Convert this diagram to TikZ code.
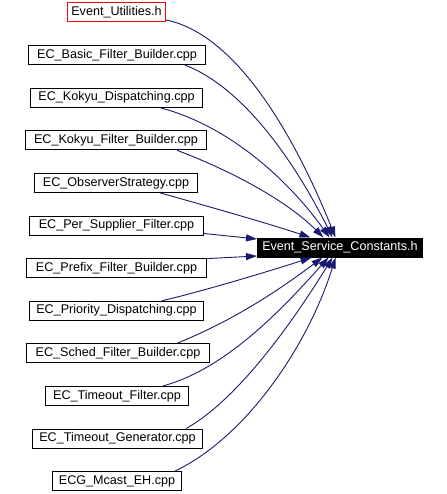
\documentclass[tikz,border=0pt]{standalone}
\usepackage{fontspec}
\setmainfont{Liberation Sans}
\usetikzlibrary{arrows.meta}
\definecolor{edgec}{HTML}{191970}
\tikzset{
  filebox/.style={draw=black, line width=1pt, inner xsep=3pt, inner ysep=0pt,
    minimum height=19pt, font=\fontsize{12.6}{14}\selectfont, anchor=center},
  redbox/.style={filebox, draw=red},
  mainbox/.style={filebox, fill=black, text=white},
  edge/.style={draw=edgec, line width=0.9pt, -{Triangle[length=11pt,width=7pt]}}
}
\begin{document}
\begin{tikzpicture}[x=1pt,y=-1pt]
\useasboundingbox (0,0) rectangle (446,494);
\node[redbox,  minimum width=98pt]  (eu)  at (116.5,12.5) {Event\_Utilities.h};
\node[filebox, minimum width=177pt] (bfb) at (117,55.1)  {EC\_Basic\_Filter\_Builder.cpp};
\node[filebox, minimum width=172pt] (kd)  at (116.5,97.7)  {EC\_Kokyu\_Dispatching.cpp};
\node[filebox, minimum width=181pt] (kf)  at (116,140.3) {EC\_Kokyu\_Filter\_Builder.cpp};
\node[filebox, minimum width=163pt] (os)  at (116,182.9) {EC\_ObserverStrategy.cpp};
\node[filebox, minimum width=174pt] (ps)  at (116.5,225.5) {EC\_Per\_Supplier\_Filter.cpp};
\node[filebox, minimum width=180pt] (pfb) at (116.5,268.1) {EC\_Prefix\_Filter\_Builder.cpp};
\node[filebox, minimum width=174pt] (pd)  at (116.5,310.7) {EC\_Priority\_Dispatching.cpp};
\node[filebox, minimum width=183pt] (sfb) at (118,353.3) {EC\_Sched\_Filter\_Builder.cpp};
\node[filebox, minimum width=143pt] (tf)  at (117,395.9) {EC\_Timeout\_Filter.cpp};
\node[filebox, minimum width=170pt] (tg)  at (117.5,438.5) {EC\_Timeout\_Generator.cpp};
\node[filebox, minimum width=129pt] (mc)  at (117,481.1) {ECG\_Mcast\_EH.cpp};
\node[mainbox, minimum width=165pt] (tgt) at (340,247.5) {Event\_Service\_Constants.h};

% upper group
\draw[edge] ([yshift=-7.5pt]eu.east) .. controls (246,36) and (306,164) .. ([xshift=78.5pt]tgt.north west);
\draw[edge] ([xshift=68pt]bfb.south) .. controls (245,88) and (297,166) .. ([xshift=75.5pt]tgt.north west);
\draw[edge] ([xshift=43.5pt]kd.south) .. controls (230,126) and (289,181) .. ([xshift=72.5pt]tgt.north west);
\draw[edge] ([xshift=61pt]kf.south) .. controls (237,173) and (289,203) .. ([xshift=66.5pt]tgt.north west);
\draw[edge] ([xshift=44pt]os.south) .. controls (200,204) and (270,224) .. ([xshift=53.5pt]tgt.north west);
% horizontal ones
\draw[edge] ([yshift=-8pt]ps.east) -- ([yshift=8.5pt]tgt.west);
\draw[edge] ([yshift=9.5pt]pfb.east) -- ([yshift=-8.5pt]tgt.west);
% lower group
\draw[edge] ([xshift=45.5pt]pd.north) .. controls (200,292) and (270,271) .. ([xshift=54.5pt]tgt.south west);
\draw[edge] ([xshift=59pt]sfb.north) .. controls (237,319) and (283,287) .. ([xshift=65.5pt]tgt.south west);
\draw[edge] ([xshift=46pt]tf.north) .. controls (230,368) and (290,300) .. ([xshift=71.5pt]tgt.south west);
\draw[edge] ([xshift=68.5pt]tg.north) .. controls (236,401) and (291,325) .. ([xshift=75.5pt]tgt.south west);
\draw[edge] ([xshift=58pt]mc.north) .. controls (250,435) and (310,340) .. ([xshift=78.5pt]tgt.south west);
\end{tikzpicture}
\end{document}
